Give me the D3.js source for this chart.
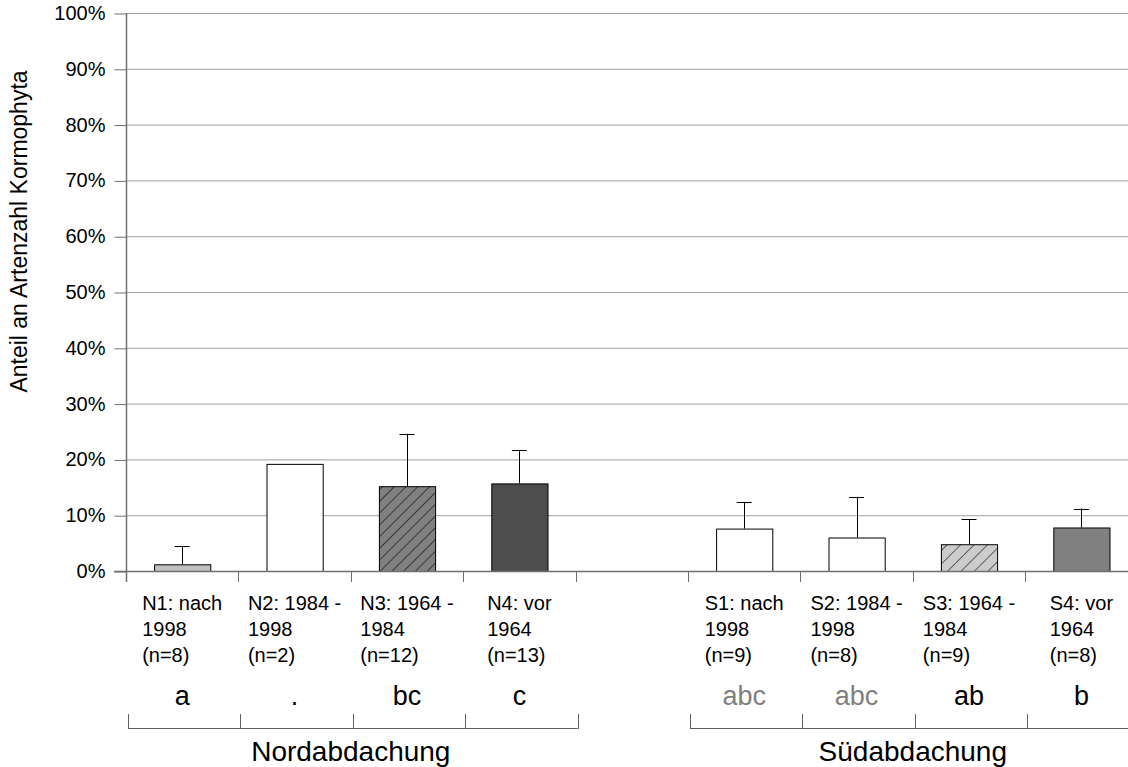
<!DOCTYPE html>
<html>
<head>
<meta charset="utf-8">
<script src="https://cdn.jsdelivr.net/npm/d3@7"></script>
<style>
  html, body { margin: 0; padding: 0; background: #fff; }
  svg { display: block; font-family: "Liberation Sans", Arial, sans-serif; }
</style>
</head>
<body>
<svg id="chart" width="1128" height="767"></svg>
<script>
// ---- data ----
const categories = ["N1", "N2", "N3", "N4", "", "S1", "S2", "S3", "S4"];
const labelLines = [
  ["N1: nach", "1998", "(n=8)"],
  ["N2: 1984 -", "1998", "(n=2)"],
  ["N3: 1964 -", "1984", "(n=12)"],
  ["N4: vor", "1964", "(n=13)"],
  [],
  ["S1: nach", "1998", "(n=9)"],
  ["S2: 1984 -", "1998", "(n=8)"],
  ["S3: 1964 -", "1984", "(n=9)"],
  ["S4: vor", "1964", "(n=8)"]
];
const means = [1.2, 19.2, 15.2, 15.7, null, 7.6, 6.0, 4.8, 7.8];
const errorTop = [4.4, null, 24.6, 21.6, null, 12.4, 13.3, 9.3, 11.2];
const letters = ["a", ".", "bc", "c", "", "abc", "abc", "ab", "b"];
const groups = ["Nordabdachung", "Südabdachung"];
const groupMembers = [["N1", "N2", "N3", "N4"], ["S1", "S2", "S3", "S4"]];
const yTickValues = [0, 10, 20, 30, 40, 50, 60, 70, 80, 90, 100];
const yTitle = "Anteil an Artenzahl Kormophyta";

// ---- styles ----
const barFill = {
  N1: "#c0c0c0", N2: "#ffffff", N3: "url(#hatchDark)", N4: "#4d4d4d",
  S1: "#ffffff", S2: "#ffffff", S3: "url(#hatchLight)", S4: "#808080"
};
const letterColor = { S1: "#808080", S2: "#808080" };

const svg = d3.select("#chart");
const defs = svg.append("defs");
function hatch(id, bg, spacing) {
  const p = defs.append("pattern").attr("id", id)
    .attr("patternUnits", "userSpaceOnUse")
    .attr("width", spacing).attr("height", spacing)
    .attr("patternTransform", "rotate(45)");
  p.append("rect").attr("width", spacing).attr("height", spacing).attr("fill", bg);
  p.append("line").attr("x1", 0).attr("y1", 0).attr("x2", 0).attr("y2", spacing)
    .attr("stroke", "#000").attr("stroke-width", 1.1);
}
hatch("hatchDark", "#808080", 8.3);
hatch("hatchLight", "#cccccc", 9.5);

const left = 126, step = 112.4;
const x = d3.scaleBand().domain(categories.map((c, i) => i))
  .range([left, left + step * categories.length]).padding(0);
const y = d3.scaleLinear().domain([0, 100]).range([571, 13]);

// gridlines
svg.append("g").selectAll("line").data(yTickValues.filter(v => v > 0)).join("line")
  .attr("x1", left).attr("x2", 1128)
  .attr("y1", d => y(d) + 0.5).attr("y2", d => y(d) + 0.5)
  .attr("stroke", "#a0a0a0").attr("stroke-width", 1);

// y axis
const yAxis = svg.append("g").attr("transform", `translate(${left + 0.5},0)`)
  .call(d3.axisLeft(y).tickValues(yTickValues).tickSize(12).tickPadding(9)
    .tickFormat(d => d + "%"));
yAxis.select(".domain").remove();
yAxis.selectAll(".tick line").attr("stroke", "#707070").attr("transform", "translate(0,0.5)");
yAxis.selectAll(".tick text").attr("font-size", 20).attr("fill", "#000")
  .attr("font-family", "Liberation Sans, Arial, sans-serif");
svg.append("line").attr("x1", left + 0.5).attr("x2", left + 0.5)
  .attr("y1", y(100)).attr("y2", 582).attr("stroke", "#707070").attr("stroke-width", 1.5);

// bars
const idx = d3.range(categories.length).filter(i => means[i] !== null);
const bw = x.bandwidth() * 0.5;
svg.append("g").selectAll("rect").data(idx).join("rect")
  .attr("x", i => x(i) + x.bandwidth() / 2 - bw / 2 + 0.5)
  .attr("y", i => y(means[i]) + 0.5)
  .attr("width", bw)
  .attr("height", i => y(0) - y(means[i]))
  .attr("fill", i => barFill[categories[i]])
  .attr("stroke", "#000").attr("stroke-width", 1);

// error bars
const eb = svg.append("g").selectAll("g").data(idx.filter(i => errorTop[i] !== null)).join("g");
eb.append("line")
  .attr("x1", i => Math.round(x(i) + x.bandwidth() / 2) + 0.5)
  .attr("x2", i => Math.round(x(i) + x.bandwidth() / 2) + 0.5)
  .attr("y1", i => y(means[i])).attr("y2", i => y(errorTop[i]))
  .attr("stroke", "#000").attr("stroke-width", 1);
eb.append("line")
  .attr("x1", i => x(i) + x.bandwidth() / 2 - 7.5)
  .attr("x2", i => x(i) + x.bandwidth() / 2 + 7.5)
  .attr("y1", i => Math.round(y(errorTop[i])) + 0.5).attr("y2", i => Math.round(y(errorTop[i])) + 0.5)
  .attr("stroke", "#000").attr("stroke-width", 1);

// x axis line + ticks
svg.append("line").attr("x1", 114).attr("x2", 1128)
  .attr("y1", y(0) + 0.5).attr("y2", y(0) + 0.5)
  .attr("stroke", "#707070").attr("stroke-width", 1.5);
const bounds = d3.range(categories.length + 1).map(i => left + i * x.step());
svg.append("g").selectAll("line").data(bounds).join("line")
  .attr("x1", d => Math.round(d) + 0.5).attr("x2", d => Math.round(d) + 0.5)
  .attr("y1", y(0)).attr("y2", 582)
  .attr("stroke", "#707070").attr("stroke-width", 1);

// category labels (block-centred, lines left-aligned)
d3.range(categories.length).forEach(i => {
  const lines = labelLines[i];
  if (!lines.length) return;
  const t = svg.append("text").attr("font-size", 20).attr("fill", "#000");
  lines.forEach((l, k) => t.append("tspan").attr("y", 610 + k * 26).text(l));
  let maxW = 0;
  t.selectAll("tspan").each(function () { maxW = Math.max(maxW, this.getComputedTextLength()); });
  const cx = x(i) + x.bandwidth() / 2;
  t.selectAll("tspan").attr("x", cx - maxW / 2);
});

// significance letters
svg.append("g").selectAll("text").data(d3.range(categories.length)).join("text")
  .attr("x", i => x(i) + x.bandwidth() / 2)
  .attr("y", 705)
  .attr("text-anchor", "middle").attr("font-size", 27)
  .attr("fill", i => letterColor[categories[i]] || "#000")
  .text(i => letters[i]);

// group brackets + labels
groups.forEach((g, gi) => {
  const ids = groupMembers[gi].map(c => categories.indexOf(c));
  const x0 = x(ids[0]) + 2, x1 = x(ids[ids.length - 1]) + x.bandwidth() + 2;
  const br = svg.append("g");
  br.append("line").attr("x1", x0).attr("x2", x1).attr("y1", 728.5).attr("y2", 728.5)
    .attr("stroke", "#606060").attr("stroke-width", 1);
  br.selectAll("line.t").data(ids.map(i => x(i) + 2).concat([x1])).join("line")
    .attr("class", "t")
    .attr("x1", d => Math.round(d) + 0.5).attr("x2", d => Math.round(d) + 0.5)
    .attr("y1", 714).attr("y2", 729)
    .attr("stroke", "#606060").attr("stroke-width", 1);
  svg.append("text").attr("x", (x(ids[0]) + x(ids[ids.length - 1]) + x.bandwidth()) / 2)
    .attr("y", 761).attr("text-anchor", "middle").attr("font-size", 28).attr("fill", "#000")
    .text(g);
});

// y title
svg.append("text").attr("transform", "translate(27,231.5) rotate(-90)")
  .attr("text-anchor", "middle").attr("font-size", 23).attr("fill", "#000")
  .text(yTitle);
</script>
</body>
</html>
